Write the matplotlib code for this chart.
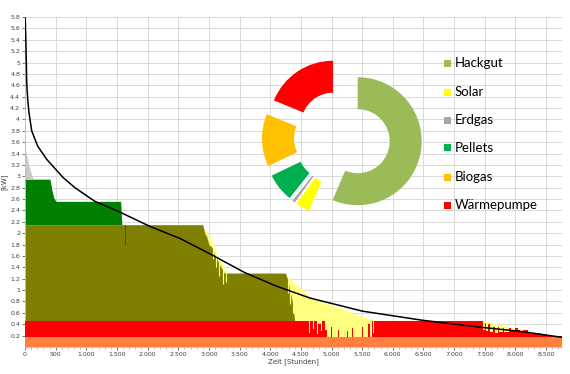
import matplotlib
matplotlib.use("Agg")
import matplotlib.pyplot as plt
from matplotlib.patches import Rectangle

# load duration curve (hours, MW)
curve_h = [0, 5, 16, 28, 44, 65, 109, 207, 353, 620, 814, 1140, 1550, 2036, 2524,
           3013, 3580, 4100, 4650, 5505, 6482, 7410, 8110, 8760]
curve_v = [5.8, 5.72, 5.28, 4.65, 4.35, 4.12, 3.8, 3.53, 3.3, 2.98, 2.8, 2.56, 2.37,
           2.12, 1.91, 1.64, 1.31, 1.07, 0.86, 0.63, 0.47, 0.35, 0.27, 0.17]

# orange base load
base_top = 0.18

# olive block
olive_h = [0, 2900, 2930, 2960, 3000, 3050, 3100, 3150, 3200, 3250, 4250, 4280, 4320, 4360, 4400]
olive_v = [2.15, 2.15, 2.0, 1.95, 1.8, 1.75, 1.6, 1.5, 1.4, 1.3, 1.3, 1.2, 1.0, 0.8, 0.45]
olive_bottom = 0.45

# green block
green_h = [0, 407, 440, 470, 505, 1560, 1580]
green_v = [2.95, 2.95, 2.75, 2.62, 2.56, 2.56, 2.15]

# grey peak
grey_h = [0, 60, 130]
grey_v = [3.5, 3.2, 2.95]

# light yellow (solar remainder)
yel_h = [2880, 2950, 3050, 3150, 3300, 3320, 4230, 4300, 4400, 4700, 5000, 5300, 5600,
         5740, 5745, 7470, 7475, 7800, 8100, 8500, 8760]
yel_v = [2.15, 2.05, 1.85, 1.6, 1.3, 0.18, 0.18, 1.25, 1.12, 0.84, 0.74, 0.62, 0.5,
         0.46, 0.18, 0.18, 0.46, 0.38, 0.3, 0.22, 0.18]

# red heat pump (step values)
red_h = [0, 4560, 4575, 4640, 4655, 4700, 4715, 4760, 4780, 4830, 4850, 4900, 4920, 4990,
         5005, 5100, 5115, 5250, 5265, 5330, 5345, 5500, 5520, 5600, 5620, 5660, 5680, 5700,
         5730, 7475, 7500, 7520, 7560, 7580, 7640, 7660, 7720, 7740, 7800, 7820, 7900, 7920,
         8000, 8050, 8080, 8120, 8200, 8230, 8300, 8400, 8500, 8600, 8760]
red_v = [0.45, 0.30, 0.45, 0.25, 0.45, 0.32, 0.45, 0.22, 0.40, 0.28, 0.45, 0.30, 0.18, 0.35,
         0.18, 0.30, 0.18, 0.28, 0.18, 0.33, 0.18, 0.36, 0.18, 0.40, 0.18, 0.45, 0.25, 0.45,
         0.45, 0.30, 0.42, 0.28, 0.40, 0.26, 0.36, 0.25, 0.35, 0.27, 0.33, 0.26, 0.34, 0.28,
         0.33, 0.30, 0.26, 0.30, 0.27, 0.23, 0.25, 0.23, 0.21, 0.19, 0.18]

# yellow streaks over olive (hour, lower end, upper end)
ystreak_h = [3060, 3120, 3170, 3230, 3280, 4290, 4330, 4370]
ystreak_lo = [1.55, 1.4, 1.25, 1.1, 1.15, 0.95, 0.75, 0.6]
ystreak_hi = [1.75, 1.6, 1.5, 1.35, 1.3, 1.2, 1.0, 0.8]

# donut shares
pie_labels = ["Hackgut", "Solar", "Erdgas", "Pellets", "Biogas", "Wärmepumpe"]
pie_values = [56.4, 3.6, 0.7, 7.2, 13.3, 18.8]
pie_colors = ["#9BBB59", "#FFFF00", "#A6A6A6", "#00B050", "#FFC000", "#FF0000"]

xticks = list(range(0, 8501, 500))
xlabels = ["0", "500"] + ["{:,}".format(t).replace(",", ".") for t in xticks[2:]]
yticks = [round(0.2 * i, 1) for i in range(1, 30)]
ylabels = ["{:g}".format(t) for t in yticks]

W, H = 570, 374
fig = plt.figure(figsize=(W / 100, H / 100), dpi=100)
ax = fig.add_axes([25 / W, (H - 347) / H, (562 - 25) / W, (347 - 17) / H])

ax.fill_between(yel_h, 0, yel_v, color="#FFFF80", lw=0, zorder=1)
ax.fill_between(olive_h, olive_bottom, olive_v, color="#808000", lw=0, zorder=2)
ax.vlines(ystreak_h, ystreak_lo, ystreak_hi, color="#FFFF80", lw=0.8, zorder=2.5)
ax.vlines([1630], [1.8], [2.15], color="#008000", lw=0.8, zorder=2.5)
ax.fill_between(green_h, 2.15, green_v, color="#008000", lw=0, zorder=2)
ax.fill_between(grey_h, 2.95, grey_v, color="#C8C8C8", lw=0, zorder=2)
ax.fill_between(red_h, 0, red_v, step="post", color="#FF0000", lw=0, zorder=3)
ax.fill_between([0, 8760], 0, base_top, color="#FF8040", lw=0, zorder=4)
ax.plot(curve_h, curve_v, color="black", lw=1.1, zorder=5)

ax.set_xlim(0, 8760)
ax.set_ylim(0, 5.8)
ax.set_xticks(xticks)
ax.set_xticklabels(xlabels)
ax.set_xticks(range(0, 8761, 100), minor=True)
ax.set_yticks(yticks)
ax.set_yticklabels(ylabels)
ax.tick_params(labelsize=4.5, colors="#404040", length=2, width=0.5, pad=1.5)
ax.tick_params(which="minor", length=1.5, width=0.4, colors="#808080")
ax.grid(True, color="#D9D9D9", lw=0.7)
ax.set_axisbelow(True)
for s in ["top", "right"]:
    ax.spines[s].set_visible(False)
for s in ["left", "bottom"]:
    ax.spines[s].set_color("#BFBFBF")
    ax.spines[s].set_linewidth(0.6)
ax.set_xlabel("Zeit [Stunden]", fontsize=5, color="#404040", labelpad=1)
ax.set_ylabel("[kW]", fontsize=5, color="#404040", labelpad=2)

# donut
r_px = 64
half = 1.4 * r_px
cx, cy = 342, 138
ax2 = fig.add_axes([(cx - half) / W, (H - cy - half) / H, 2 * half / W, 2 * half / H])
ax2.pie(pie_values, colors=pie_colors, startangle=90, counterclock=False,
        explode=[0.25] * len(pie_values), radius=1,
        wedgeprops=dict(width=0.5, linewidth=0))
ax2.set_xlim(-1.4, 1.4)
ax2.set_ylim(-1.4, 1.4)
ax2.set_axis_off()

# legend
leg_y = [63, 92, 120, 148, 177, 205]
for lab, col, y in zip(pie_labels, pie_colors, leg_y):
    fig.patches.append(Rectangle((444 / W, (H - y - 3.5) / H), 7 / W, 7 / H,
                                 transform=fig.transFigure, color=col, lw=0))
    fig.text(455 / W, (H - y) / H, lab, fontsize=9.5, family="Lato",
             va="center", ha="left", color="black")

fig.savefig("out.png", dpi=100)
